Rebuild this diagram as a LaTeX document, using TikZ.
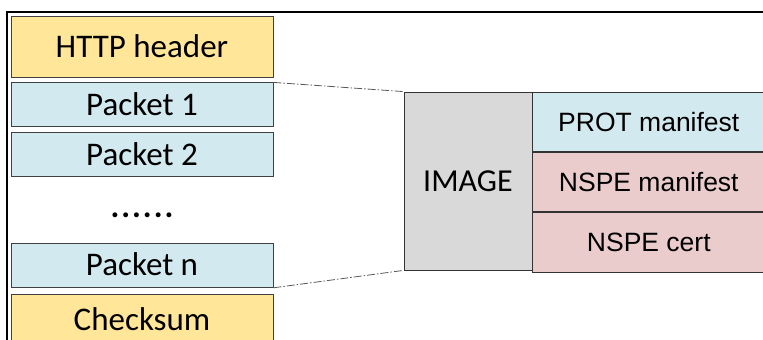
\documentclass[tikz,border=0pt]{standalone}
\usepackage{fontspec}
\setmainfont{Carlito}
\newfontfamily\arialfont{Liberation Sans}
\usepackage{tikz}
\usetikzlibrary{positioning, calc}
\definecolor{hdrfill}{HTML}{FFE699}
\definecolor{pktfill}{HTML}{D2E9EF}
\definecolor{nspefill}{HTML}{EBCCCC}
\definecolor{imgfill}{HTML}{D9D9D9}
\definecolor{border}{HTML}{404040}
\definecolor{zoomline}{HTML}{595959}
\tikzset{
    field/.style={rectangle, minimum width=262pt, text centered, draw=border, line width=0.8pt, inner sep=0pt, font=\fontsize{33}{33}\selectfont, text height=21pt, text depth=0pt},
    header/.style={field, fill=hdrfill},
    packet/.style={field, fill=pktfill, minimum height=44pt},
    part/.style={rectangle, minimum width=232pt, minimum height=59.5pt, text centered, draw=black!80, line width=0.8pt, inner sep=0pt, font=\arialfont\fontsize{26.5}{26.5}\selectfont, text height=19pt, text depth=0pt},
    zoomlink/.style={draw=zoomline, line width=0.8pt, dash pattern=on 8pt off 2pt on 1.5pt off 2pt},
    frame/.style={line width=2.6pt}
}

\begin{document}
\begin{tikzpicture}[node distance=5pt]
    \useasboundingbox (0pt,0pt) rectangle (763pt,-340pt);
    % Frame
    \draw [frame] (7pt,-340pt) -- (7pt,-12pt) -- (763pt,-12pt);

    % Nodes - stream on the left
    \node (http) [header, minimum height=61pt] at (142pt,-46.5pt) {HTTP header};
    \node (pkt1) [packet, below=of http] {Packet 1};
    \node (pkt2) [packet, below=of pkt1] {Packet 2};
    \node (pktn) [packet, below=66pt of pkt2] {Packet n};
    \node (checksum) [header, minimum height=52pt, below=6pt of pktn] {Checksum};
    \node (dots) [inner sep=0pt, font=\fontsize{33}{33}\selectfont\bfseries] at ($(pkt2.south)!0.576!(pktn.north)$) {.\kern2pt.\kern2pt.\kern2pt.\kern2pt.\kern2pt.};

    % Image contents
    \node (image) [rectangle, minimum width=128pt, minimum height=178pt, draw=black!80, line width=0.8pt, fill=imgfill, font=\fontsize{32}{32}\selectfont, text height=20.5pt, text depth=0pt] at (468pt,-181pt) {IMAGE};
    \node (prot) [part, fill=pktfill, anchor=north west] at (image.north east) {PROT manifest};
    \node (nspeman) [part, fill=nspefill, below=0pt of prot] {NSPE manifest};
    \node (nspecert) [part, fill=nspefill, below=0pt of nspeman] {NSPE cert};

    % Zoom lines
    \draw [zoomlink] (pkt1.north east) -- (image.north west);
    \draw [zoomlink] (pktn.south east) -- (image.south west);
\end{tikzpicture}
\end{document}
